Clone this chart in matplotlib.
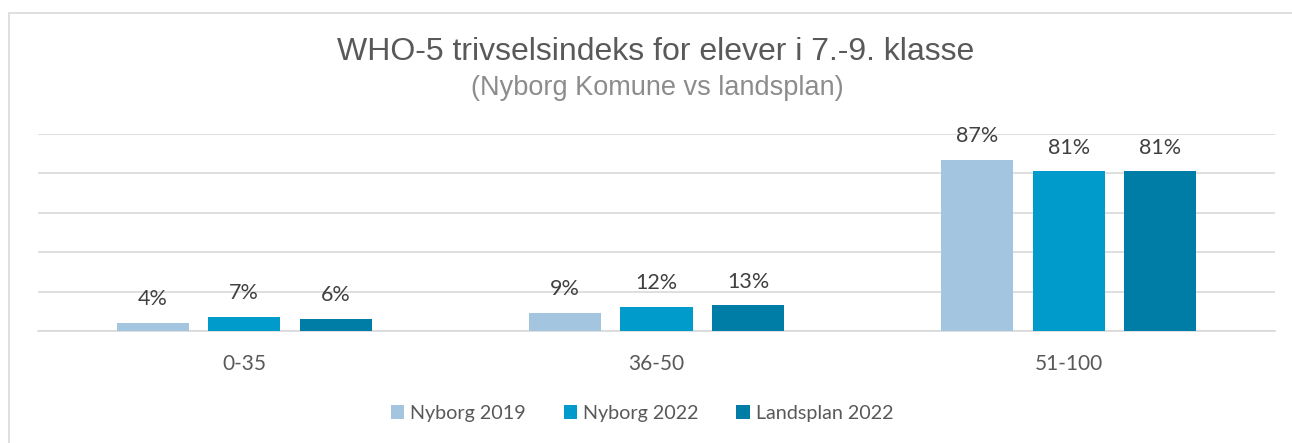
import matplotlib
matplotlib.use("Agg")
import matplotlib.pyplot as plt
from matplotlib.patches import Rectangle, Patch
import numpy as np

categories = ["0-35", "36-50", "51-100"]
series_names = ["Nyborg 2019", "Nyborg 2022", "Landsplan 2022"]
nyborg_2019 = [4, 9, 87]
nyborg_2022 = [7, 12, 81]
landsplan_2022 = [6, 13, 81]
colors = ["#A3C5E0", "#009ACB", "#007DA6"]

W, H = 1292, 443
fig = plt.figure(figsize=(W / 100, H / 100), dpi=100)
fig.patch.set_facecolor("white")
fig.patches.append(Rectangle((9 / W, -0.1), 1.2, 1 - 13 / H + 0.1, transform=fig.transFigure,
                             fill=False, edgecolor="#D9D9D9", linewidth=1.2))

ax = fig.add_axes([38 / W, 1 - 331 / H, (1275 - 38) / W, (331 - 134) / H])
x = np.arange(len(categories))
width = 0.175
step = 0.222
data = [nyborg_2019, nyborg_2022, landsplan_2022]
for i, (vals, name, col) in enumerate(zip(data, series_names, colors)):
    bars = ax.bar(x + (i - 1) * step, vals, width, color=col, label=name, zorder=3)
    for b, v in zip(bars, vals):
        ax.annotate(f"{v}%", (b.get_x() + b.get_width() / 2, v), xytext=(0, 10),
                    textcoords="offset points", ha="center", va="bottom",
                    fontsize=15.5, color="#404040", family="Lato")

ax.set_xlim(-0.5, 2.5)
ax.set_ylim(0, 100)
ax.set_yticks(np.arange(0, 101, 20))
ax.yaxis.grid(True, color="#D9D9D9", linewidth=1.2, zorder=0)
ax.tick_params(axis="y", left=False, labelleft=False)
ax.tick_params(axis="x", bottom=False, pad=13)
ax.set_xticks(x)
ax.set_xticklabels(categories, fontsize=15, color="#595959", family="Lato")
for s in ["top", "right", "left"]:
    ax.spines[s].set_visible(False)
ax.spines["bottom"].set_color("#D9D9D9")
ax.spines["bottom"].set_linewidth(1.2)

fig.text(656 / W, 1 - 52 / H, "WHO-5 trivselsindeks for elever i 7.-9. klasse", ha="center", va="center",
         fontsize=23, color="#595959", family="Liberation Sans")
fig.text(657 / W, 1 - 88 / H, "(Nyborg Komune vs landsplan)", ha="center", va="center",
         fontsize=19.5, color="#8C8C8C", family="Liberation Sans")

handles = [Patch(facecolor=c, label=n) for c, n in zip(colors, series_names)]
leg = fig.legend(handles=handles, loc="center", bbox_to_anchor=(642 / W, 1 - 413 / H), ncol=3,
                 frameon=False, handlelength=0.7, handleheight=0.7,
                 handletextpad=0.3, columnspacing=1.9, prop={"family": "Lato", "size": 14.2})
for t in leg.get_texts():
    t.set_color("#595959")

fig.savefig("out.png", dpi=100, facecolor="white")
